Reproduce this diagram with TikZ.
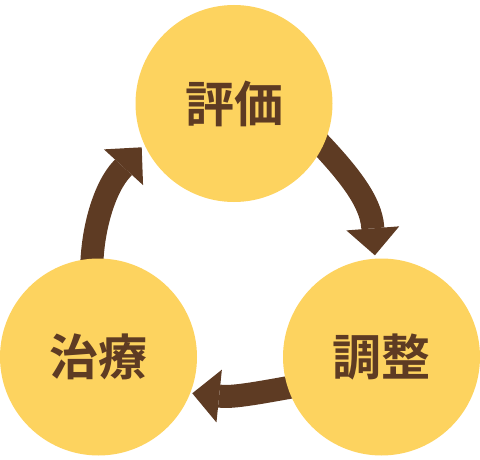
\documentclass[tikz,border=0pt]{standalone}
\usepackage{fontspec}
\newfontfamily\cjkb{Noto Sans CJK JP Bold}
\usetikzlibrary{arrows.meta,calc}
\definecolor{circfill}{HTML}{FDD35F}
\definecolor{brownc}{HTML}{5E3B23}
\pgfdeclarelayer{back}
\pgfsetlayers{back,main}
\begin{document}
\begin{tikzpicture}[x=1pt,y=-1pt,
  stage/.style={circle, fill=circfill, minimum size=197pt, inner sep=0pt,
    text=brownc, font=\cjkb\fontsize{49}{49}\selectfont},
  cyc/.style={draw=brownc, line width=23pt,
    -{Triangle[length=27pt,width=53pt,line width=0pt]}}
]
\useasboundingbox (0,0) rectangle (480,460);
\node[stage] (ev) at (234,103.5) {評価};
\node[stage] (adj) at (381.5,357) {調整};
\node[stage] (tr) at (98.5,357) {治療};
\coordinate (t1) at (141.7,147.3);
\coordinate (t2) at (374.9,255.3);
\coordinate (t3) at (192.3,393.3);
\begin{pgfonlayer}{back}
  % treatment -> evaluation
  \draw[cyc] ($(tr.94)+(0,12)$) .. controls (92,228) and (105,187) .. (121.7,169.2) -- (t1);
  % evaluation -> adjustment
  \draw[cyc] ($(ev.center)+(78.1,31.7)$) .. controls (350.3,174.7) and (370.7,201.9) .. (372.7,226.8) -- (t2);
  % adjustment -> treatment
  \draw[cyc] ($(adj.center)+(-81.5,28.6)$) .. controls (275,389.6) and (236.4,397.8) .. (221.5,396.3) -- (t3);
\end{pgfonlayer}
\end{tikzpicture}
\end{document}
